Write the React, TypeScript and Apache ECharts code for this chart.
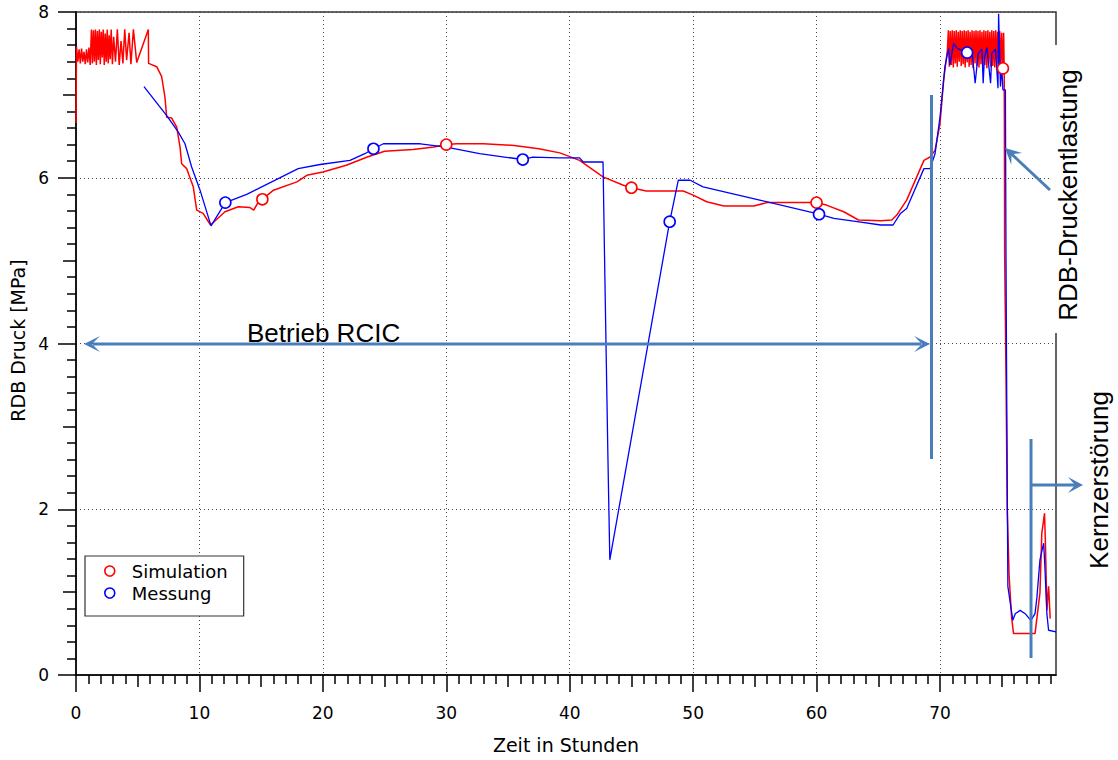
import React, { useEffect, useRef } from 'react';
import * as echarts from 'echarts';

// ---------- data ----------
const simStart: number[][] = [
  [0, 6.66], [0.04, 7.58], [0.15, 7.4], [0.25, 7.55], [0.35, 7.38], [0.45, 7.56], [0.55, 7.4],
  [0.65, 7.52], [0.75, 7.37], [0.85, 7.55], [0.95, 7.39], [1.05, 7.57], [1.15, 7.36], [1.25, 7.79],
  [1.33, 7.38], [1.41, 7.78], [1.49, 7.4], [1.57, 7.79], [1.65, 7.36], [1.73, 7.77], [1.81, 7.42],
  [1.89, 7.79], [1.97, 7.37], [2.05, 7.76], [2.13, 7.45], [2.21, 7.79], [2.29, 7.36], [2.37, 7.74],
  [2.45, 7.4], [2.53, 7.79], [2.61, 7.38], [2.69, 7.72], [2.77, 7.43], [2.85, 7.79], [2.95, 7.37],
  [3.05, 7.7], [3.2, 7.4], [3.35, 7.79], [3.5, 7.36], [3.65, 7.65], [3.8, 7.38], [3.95, 7.79],
  [4.1, 7.42], [4.3, 7.75], [4.45, 7.37], [4.65, 7.79], [4.92, 7.39], [5.86, 7.79], [5.88, 7.38]
];
const simMain: number[][] = [
  [6.54, 7.34], [6.94, 7.22], [7.2, 6.98], [7.35, 6.73], [7.75, 6.72], [8.16, 6.61], [8.43, 6.37],
  [8.56, 6.17], [8.97, 6.11], [9.5, 5.89], [9.78, 5.61], [10.3, 5.57], [10.9, 5.43], [12.07, 5.59],
  [13.15, 5.65], [14.1, 5.64], [14.4, 5.61], [14.78, 5.71], [15.1, 5.74], [16, 5.85], [17.9, 5.95],
  [18.7, 6.03], [20, 6.07], [21.9, 6.15], [23.6, 6.25], [25, 6.32], [27.3, 6.34], [29, 6.37],
  [30, 6.4], [30.85, 6.41], [33, 6.41], [35.5, 6.39], [37.5, 6.35], [39.2, 6.3], [40.8, 6.21],
  [42.7, 6.01], [44.35, 5.91], [45, 5.88], [46.2, 5.84], [49.2, 5.84], [50, 5.79], [51.1, 5.71],
  [52.5, 5.66], [54.9, 5.66], [56, 5.7], [58.1, 5.7], [60, 5.7], [60.8, 5.67], [62.2, 5.59],
  [63.4, 5.49], [65.2, 5.48], [66.1, 5.49], [66.5, 5.55], [67.3, 5.73], [68.7, 6.21], [69.2, 6.25],
  [69.6, 6.33], [70, 6.65], [70.3, 7.18]
];
const simHigh: number[][] = [
  [70.6, 7.54], [70.68, 7.78], [70.76, 7.34], [70.84, 7.77], [70.92, 7.36], [71.0, 7.78], [71.08, 7.33],
  [71.16, 7.77], [71.24, 7.38], [71.32, 7.78], [71.4, 7.34], [71.48, 7.76], [71.56, 7.4], [71.64, 7.78],
  [71.72, 7.35], [71.8, 7.77], [71.88, 7.37], [71.96, 7.78], [72.04, 7.33], [72.12, 7.77], [72.2, 7.39],
  [72.28, 7.78], [72.36, 7.34], [72.44, 7.76], [72.52, 7.36], [72.6, 7.78], [72.68, 7.32], [72.76, 7.77],
  [72.84, 7.38], [72.92, 7.78], [73.0, 7.35], [73.08, 7.77], [73.16, 7.33], [73.24, 7.78], [73.32, 7.37],
  [73.4, 7.76], [73.48, 7.34], [73.56, 7.78], [73.64, 7.36], [73.72, 7.77], [73.8, 7.32], [73.88, 7.78],
  [73.96, 7.38], [74.04, 7.76], [74.12, 7.34], [74.2, 7.78], [74.28, 7.35], [74.36, 7.77], [74.44, 7.33],
  [74.52, 7.78], [74.6, 7.37], [74.68, 7.76], [74.76, 7.34], [74.84, 7.77], [74.92, 7.36], [75.0, 7.75],
  [75.08, 7.33], [75.16, 7.75], [75.2, 7.32]
];
const simEnd: number[][] = [
  [75.22, 6.69], [75.24, 5.09], [75.35, 3.6], [75.45, 2.0], [75.6, 1.2], [75.8, 0.7], [75.96, 0.5],
  [77.7, 0.5], [78.1, 0.99], [78.25, 1.71], [78.47, 1.95], [78.55, 1.55], [78.66, 0.78], [78.8, 1.07],
  [78.93, 0.68]
];
const messMain: number[][] = [
  [5.51, 7.1], [7.35, 6.75], [8.29, 6.55], [8.83, 6.41], [9.37, 6.13], [10.05, 5.85], [10.94, 5.42],
  [12.1, 5.7], [13.83, 5.8], [18, 6.11], [19.77, 6.16], [22.2, 6.21], [23.4, 6.29], [24.1, 6.35],
  [24.9, 6.41], [27.9, 6.41], [30, 6.37], [32.7, 6.29], [36.2, 6.22], [37, 6.25], [39.2, 6.24],
  [40.8, 6.24], [41.1, 6.19], [42.7, 6.19], [42.85, 4.8], [43.1, 2.6], [43.25, 1.39], [48.1, 5.47],
  [48.8, 5.97], [49.76, 5.97], [50.8, 5.89], [55.4, 5.73], [60.2, 5.56], [61.4, 5.51], [63.3, 5.47],
  [65.2, 5.43], [66.2, 5.43], [66.8, 5.57], [67.3, 5.63], [68.7, 6.11], [69.2, 6.11], [69.6, 6.29],
  [70, 6.73], [70.4, 7.34]
];
const messHigh: number[][] = [
  [70.7, 7.56], [70.8, 7.36], [71.1, 7.62], [71.4, 7.56], [72.2, 7.51], [72.6, 7.52], [72.85, 7.14],
  [73.1, 7.5], [73.4, 7.55], [73.5, 7.14], [73.6, 7.45], [73.8, 7.57], [74.1, 7.14], [74.2, 7.5],
  [74.5, 7.55], [74.7, 7.08], [74.75, 7.98], [74.9, 7.1], [75.0, 7.34], [75.1, 7.06], [75.3, 7.06]
];
const messEnd: number[][] = [
  [75.35, 5.0], [75.4, 3.56], [75.5, 1.07], [75.9, 0.66], [76.1, 0.74], [76.5, 0.78], [76.9, 0.74],
  [77.36, 0.66], [77.7, 0.74], [77.85, 0.93], [78.1, 1.39], [78.4, 1.59], [78.5, 1.3], [78.66, 0.74],
  [78.8, 0.54], [79.4, 0.52]
];
const simMarkers: number[][] = [[15.1, 5.74], [30, 6.4], [45, 5.88], [60, 5.7], [75.1, 7.32]];
const messMarkers: number[][] = [[12.1, 5.7], [24.1, 6.35], [36.2, 6.22], [48.1, 5.47], [60.2, 5.56], [72.2, 7.51]];

const xMajor = [0, 10, 20, 30, 40, 50, 60, 70];
const xMid = [5, 15, 25, 35, 45, 55, 65, 75];
const yMajor = [0, 2, 4, 6, 8];
const yMid = [1, 3, 5, 7];
const xMinor: number[] = [];
for (let i = 1; i < 80; i++) if (i % 5 !== 0) xMinor.push(i);
const yMinor: number[] = [];
for (let i = 1; i < 40; i++) if (i % 5 !== 0) yMinor.push(Math.round(i * 2) / 10);

const X_MAX = 79.4;
const FONT = 'DejaVu Sans';
const ARROW = '#4A7EBB';

function xAx(ticks: number[], len: number, main: boolean): any {
  return {
    type: 'value', gridIndex: 0, position: 'bottom', min: 0, max: X_MAX, interval: 10,
    axisLine: { show: main, onZero: false, lineStyle: { color: '#000', width: 1.5 } },
    axisTick: { show: true, inside: false, length: len, customValues: ticks, lineStyle: { color: '#000', width: 1.5 } },
    axisLabel: main
      ? { show: true, customValues: xMajor, formatter: (v: number) => (v % 10 === 0 ? String(v) : ''),
          margin: 29, fontSize: 17, fontFamily: FONT, color: '#000' }
      : { show: false },
    splitLine: main
      ? { show: true, lineStyle: { color: '#444', width: 1, type: [1, 3] } }
      : { show: false },
    name: main ? 'Zeit in Stunden' : '',
    nameLocation: 'middle', nameGap: 60,
    nameTextStyle: { fontSize: 19, fontFamily: FONT, color: '#000' },
  };
}
function yAx(ticks: number[], len: number, main: boolean): any {
  return {
    type: 'value', gridIndex: 0, position: 'left', min: 0, max: 8, interval: 2,
    axisLine: { show: main, onZero: false, lineStyle: { color: '#000', width: 1.5 } },
    axisTick: { show: true, inside: false, length: len, customValues: ticks, lineStyle: { color: '#000', width: 1.5 } },
    axisLabel: main
      ? { show: true, customValues: yMajor, margin: 27, fontSize: 17, fontFamily: FONT, color: '#000' }
      : { show: false },
    splitLine: main
      ? { show: true, lineStyle: { color: '#444', width: 1, type: [1, 3] } }
      : { show: false },
    name: main ? 'RDB Druck [MPa]' : '',
    nameLocation: 'middle', nameGap: 46,
    nameTextStyle: { fontSize: 19, fontFamily: FONT, color: '#000', padding: [0, 0, 0, 6] },
  };
}

function arrowHead(tip: number[], dir: number[], len: number, half: number, notch: number) {
  const l = Math.hypot(dir[0], dir[1]);
  const ux = dir[0] / l, uy = dir[1] / l;
  const nx = -uy, ny = ux;
  return {
    type: 'polygon', z: 30,
    shape: {
      points: [
        tip,
        [tip[0] - len * ux + half * nx, tip[1] - len * uy + half * ny],
        [tip[0] - notch * ux, tip[1] - notch * uy],
        [tip[0] - len * ux - half * nx, tip[1] - len * uy - half * ny],
      ],
    },
    style: { fill: ARROW },
  };
}
function seg(x1: number, y1: number, x2: number, y2: number) {
  return { type: 'line', z: 30, shape: { x1, y1, x2, y2 }, style: { stroke: ARROW, lineWidth: 3 } };
}

export default function App() {
  const ref = useRef<HTMLDivElement>(null);
  useEffect(() => {
    const chart = echarts.init(ref.current!, null, { renderer: 'svg' });
    const option: any = {
      animation: false,
      backgroundColor: '#fff',
      grid: { left: 76, right: 62, top: 12, bottom: 85, show: true, borderColor: '#333', borderWidth: 1.5, backgroundColor: 'transparent' },
      xAxis: [xAx(xMajor, 17, true), xAx(xMid, 12, false), xAx(xMinor, 9, false)],
      yAxis: [yAx(yMajor, 18, true), yAx(yMid, 13, false), yAx(yMinor, 9, false)],
      legend: {
        show: true, orient: 'vertical', left: 85, top: 556,
        padding: [6, 16, 14, 19], itemGap: 4, itemWidth: 10, itemHeight: 10,
        borderColor: '#333', borderWidth: 1.2, backgroundColor: '#fff', selectedMode: false,
        textStyle: { fontSize: 18, fontFamily: FONT, color: '#000', padding: [0, 0, 0, 12] },
        data: [
          { name: 'Simulation', icon: 'circle', itemStyle: { color: '#fff', borderColor: '#ff0000', borderWidth: 1.6, opacity: 1 } },
          { name: 'Messung', icon: 'circle', itemStyle: { color: '#fff', borderColor: '#0000ff', borderWidth: 1.6, opacity: 1 } },
        ],
      },
      series: [
        {
          name: 'Simulation', type: 'line', data: [...simStart, ...simMain, ...simHigh, ...simEnd],
          showSymbol: false, symbol: 'none', color: '#ff0000', lineStyle: { color: '#ff0000', width: 1.5 }, z: 2,
        },
        {
          name: 'Messung', type: 'line', data: [...messMain, ...messHigh, ...messEnd],
          showSymbol: false, symbol: 'none', color: '#0000ff', lineStyle: { color: '#0000ff', width: 1.3 }, z: 3,
        },
        {
          name: 'Simulation', type: 'scatter', data: simMarkers, symbol: 'circle', symbolSize: 11, z: 5,
          itemStyle: { color: '#fff', borderColor: '#ff0000', borderWidth: 1.6, opacity: 1 },
        },
        {
          name: 'Messung', type: 'scatter', data: messMarkers, symbol: 'circle', symbolSize: 11, z: 5,
          itemStyle: { color: '#fff', borderColor: '#0000ff', borderWidth: 1.6, opacity: 1 },
        },
      ],
      graphic: [
        { type: 'rect', z: 20, shape: { x: 1051, y: 45, width: 34, height: 288 }, style: { fill: '#fff' } },
        seg(93, 344, 921, 344),
        arrowHead([84, 344], [-1, 0], 16, 8, 8),
        arrowHead([930, 344], [1, 0], 16, 8, 8),
        seg(931.5, 95, 931.5, 459),
        seg(1031, 439, 1031, 658),
        seg(1031, 485, 1076, 485),
        arrowHead([1083, 485], [1, 0], 15, 8, 8),
        seg(1050, 190, 1011, 153.5),
        arrowHead([1005, 148], [-45, -42], 16, 8, 9),
        {
          type: 'text', z: 40, x: 247, y: 333,
          style: { text: 'Betrieb RCIC', fontSize: 26, fontFamily: 'Liberation Sans', fill: '#000', align: 'left', verticalAlign: 'middle' },
        },
        {
          type: 'text', z: 40, x: 1068, y: 195, rotation: Math.PI / 2,
          style: { text: 'RDB-Druckentlastung', fontSize: 26, fontFamily: 'Liberation Sans', fill: '#000', align: 'center', verticalAlign: 'middle' },
        },
        {
          type: 'text', z: 40, x: 1099, y: 480, rotation: Math.PI / 2,
          style: { text: 'Kernzerstörung', fontSize: 26, fontFamily: 'Liberation Sans', fill: '#000', align: 'center', verticalAlign: 'middle' },
        },
      ],
    };
    chart.setOption(option);
    return () => chart.dispose();
  }, []);
  return <div ref={ref} style={{ position: 'absolute', left: 0, top: 0, width: 1118, height: 760 }} />;
}
